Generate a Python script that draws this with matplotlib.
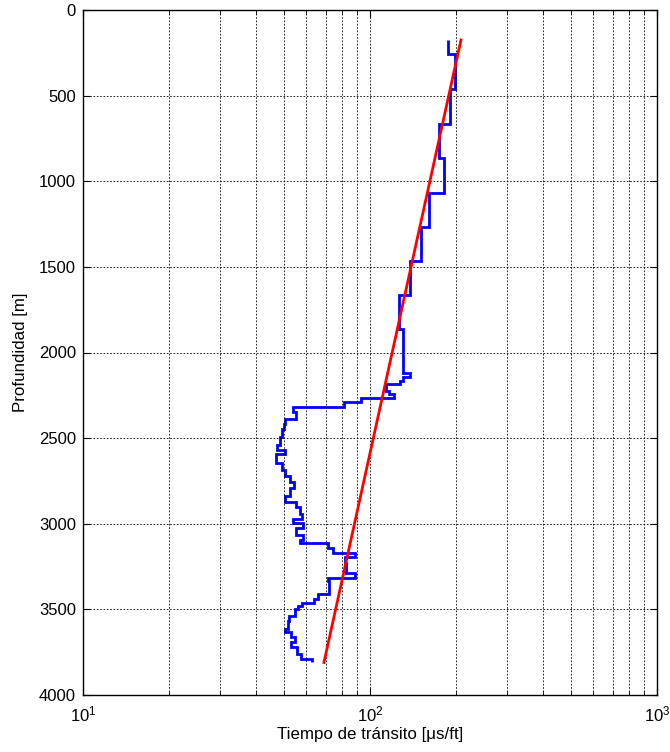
import numpy as np
import matplotlib
matplotlib.use('Agg')
import matplotlib.pyplot as plt

plt.rcParams['font.family'] = ['Liberation Sans', 'DejaVu Sans']
plt.rcParams['mathtext.fontset'] = 'custom'
plt.rcParams['mathtext.rm'] = 'Liberation Sans'
plt.rcParams['mathtext.it'] = 'Liberation Sans:italic'

# Registro (tiempo de tránsito por intervalos de profundidad)
prof_bordes = [175, 259, 463, 666, 866, 1067, 1269, 1468, 1664, 1865, 2118, 2141,
               2165, 2186, 2222, 2245, 2268, 2287, 2316, 2349, 2388, 2417, 2446,
               2494, 2542, 2568, 2595, 2645, 2687, 2722, 2755, 2793, 2838, 2871,
               2900, 2942, 2973, 2996, 3025, 3064, 3097, 3114, 3143, 3172, 3195,
               3230, 3288, 3317, 3336, 3413, 3438, 3461, 3481, 3500, 3539, 3568,
               3612, 3635, 3660, 3689, 3722, 3761, 3790, 3805]
tiempo = [187, 197, 190, 174, 181, 161, 150, 138, 126, 130, 138,
          130, 127, 114, 116, 121, 93, 81, 53.7, 55.3, 50.7, 50,
          49.3, 48.4, 47.5, 50.7, 47.1, 49.3, 50.7, 52.6, 54.2, 52.6, 50.7,
          55.3, 56.9, 58, 53.7, 58.3, 55.3, 58.3, 56.8, 71.4, 74.4, 88.5,
          81.7, 82.8, 88.5, 71.4, 72, 65.9, 63.8, 57.8, 56.2, 54.8, 52.4,
          51.6, 50.4, 53.2, 55, 52.9, 55.6, 57.4, 62.6]

# Tendencia de compactación normal
prof_ajuste = [175, 3810]
tiempo_ajuste = [207.5, 69.1]

fig = plt.figure(figsize=(6.7, 7.52), dpi=100)
ax = fig.add_axes([0.1239, 0.0758, 0.8567, 0.9109])

ax.stairs(tiempo, prof_bordes, orientation='horizontal', baseline=None,
          color='#0000ff', linewidth=2.0)
ax.plot(tiempo_ajuste, prof_ajuste, color='#ff0000', linewidth=2.0)

ax.set_xscale('log')
ax.set_xlim(10, 1000)
ax.set_ylim(4000, 0)
ax.set_yticks(np.arange(0, 4001, 500))

ax.grid(True, which='both', axis='x', color='k', linestyle=(0, (2, 2)), linewidth=0.6)
ax.grid(True, which='major', axis='y', color='k', linestyle=(0, (2, 2)), linewidth=0.6)

ax.tick_params(which='both', direction='in', top=True, right=True, labelsize=12)
ax.tick_params(which='major', length=5)
ax.tick_params(which='minor', length=3)
ax.tick_params(axis='x', which='major', pad=7)
ax.tick_params(axis='y', which='major', pad=5)
for s in ax.spines.values():
    s.set_linewidth(1.0)

ax.set_xlabel('Tiempo de tránsito [μs/ft]', fontsize=12.2, labelpad=2)
ax.set_ylabel('Profundidad [m]', fontsize=12.2, labelpad=8)

fig.savefig('out.png', dpi=100)
